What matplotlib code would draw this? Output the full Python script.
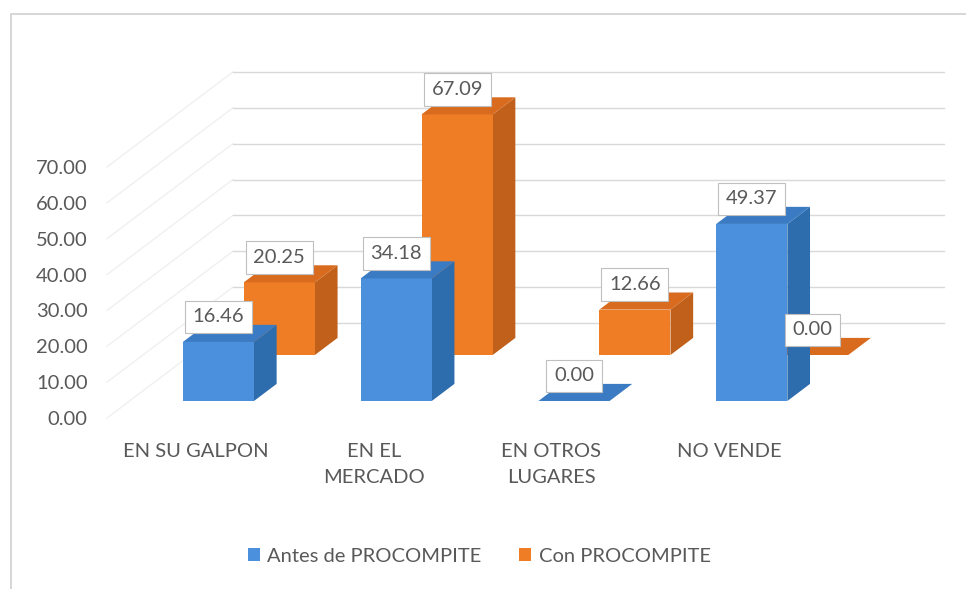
import matplotlib
matplotlib.use("Agg")
import matplotlib.pyplot as plt
from matplotlib.patches import Polygon, Patch, Rectangle

plt.rcParams['font.family'] = ['Lato', 'DejaVu Sans']

# data
categories = ["EN SU GALPON", "EN EL\nMERCADO", "EN OTROS\nLUGARES", "NO VENDE"]
antes = [16.46, 34.18, 0.00, 49.37]
con = [20.25, 67.09, 12.66, 0.00]
series_names = ["Antes de PROCOMPITE", "Con PROCOMPITE"]
yticks = [0, 10, 20, 30, 40, 50, 60, 70]

# pseudo 3d geometry (depth 0 = front of floor, 1 = back wall)
KX = 0.708   # category units per depth unit
KY = 26.5    # value units per depth unit
BAR_W = 0.40
rows = [(0.179, 0.359), (0.663, 0.843)]  # depth span of each series row
colors = [
    {"front": "#4A90DC", "side": "#2D6DAE", "top": "#3A7BC4"},
    {"front": "#EE7D25", "side": "#C0601A", "top": "#D96B1E"},
]
text_col = "#595959"
FS = 14.5

W, H = 966, 589
fig = plt.figure(figsize=(W / 100, H / 100), dpi=100)
left_px, bottom_px = 107, H - 418
ax = fig.add_axes([left_px / W, bottom_px / H, 1 - left_px / W, 1 - bottom_px / H])
ax.set_xlim(-0.5, (W - 195) / 178)
ax.set_ylim(0, 418 / 3.586)
for s in ax.spines.values():
    s.set_visible(False)
ax.set_yticks(yticks)
ax.set_yticklabels([f"{v:.2f}" for v in yticks])
ax.set_xticks(range(len(categories)))
ax.set_xticklabels(categories, linespacing=1.65)
ax.tick_params(axis='y', length=0, pad=14, labelsize=FS, labelcolor=text_col)
ax.tick_params(axis='x', length=0, pad=18, labelsize=FS, labelcolor=text_col)


def pt(x, v, d):
    return (x + d * KX, v + d * KY)


# walls and gridlines
x0, x1 = -0.5, len(categories) - 0.5
for v in yticks:
    ax.plot(*zip(pt(x0, v, 0), pt(x0, v, 1)), color="#F0F0F0", lw=1, zorder=1, clip_on=False)
    ax.plot(*zip(pt(x0, v, 1), pt(x1, v, 1)), color="#D9D9D9", lw=1, zorder=1, clip_on=False)

# bars, back row first
for si in [1, 0]:
    vals = [antes, con][si]
    d0, d1 = rows[si]
    c = colors[si]
    for i, v in enumerate(vals):
        xl, xr = i - BAR_W / 2, i + BAR_W / 2
        z = 3 if si == 0 else 2
        front = [pt(xl, 0, d0), pt(xr, 0, d0), pt(xr, v, d0), pt(xl, v, d0)]
        side = [pt(xr, 0, d0), pt(xr, 0, d1), pt(xr, v, d1), pt(xr, v, d0)]
        top = [pt(xl, v, d0), pt(xr, v, d0), pt(xr, v, d1), pt(xl, v, d1)]
        ax.add_patch(Polygon(side, closed=True, fc=c["side"], ec="none", zorder=z))
        ax.add_patch(Polygon(front, closed=True, fc=c["front"], ec="none", zorder=z))
        ax.add_patch(Polygon(top, closed=True, fc=c["top"], ec="none", zorder=z))

# data labels
for si in [1, 0]:
    vals = [antes, con][si]
    d0 = rows[si][0]
    for i, v in enumerate(vals):
        ax.annotate(f"{v:.2f}", xy=pt(i, v, d0), xytext=(0, 18), textcoords="offset points",
                    ha="center", va="center", fontsize=FS, color=text_col, zorder=10,
                    annotation_clip=False,
                    bbox=dict(boxstyle="square,pad=0.38", fc="white", ec="#BFBFBF", lw=0.8))

# legend
handles = [Patch(fc=colors[k]["front"], ec="none", label=series_names[k]) for k in range(2)]
fig.legend(handles=handles, loc="center", bbox_to_anchor=(0.496, 1 - 556 / H), ncol=2,
           frameon=False, fontsize=FS, labelcolor=text_col, handlelength=0.6,
           handleheight=0.6, handletextpad=0.35, columnspacing=1.9)

# outer chart border
fig.patches.append(Rectangle((11 / W, -0.05), 1.1, 1 - 14 / H + 0.05, transform=fig.transFigure,
                             fill=False, ec="#D0D0D0", lw=1.2))

fig.savefig("out.png", dpi=100)
